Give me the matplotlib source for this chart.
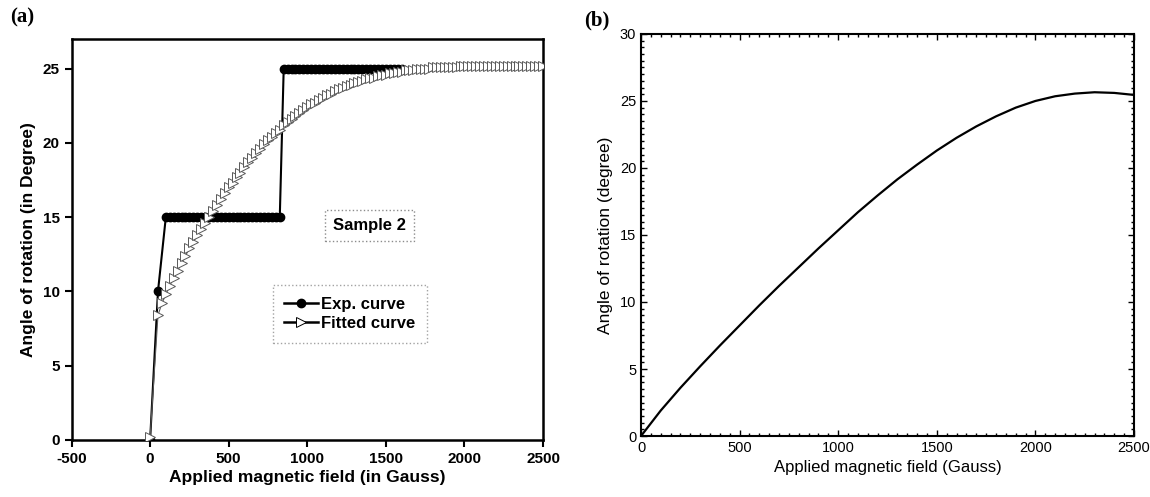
"""
Faraday rotation vs applied field: (a) experiment + fit, (b) model curve
"""

import matplotlib
matplotlib.use("Agg")
import matplotlib.pyplot as plt
from matplotlib.ticker import MultipleLocator

plt.rcParams['font.family'] = ['Liberation Sans', 'DejaVu Sans']
plt.rcParams['axes.unicode_minus'] = False

# ---- panel (a) data ----
exp_field = [0, 50,
             100, 125, 150, 175, 200, 225, 250, 275, 300, 325, 350, 375,
             400, 425, 450, 475, 500, 525, 550, 575, 600, 625, 650, 675,
             700, 725, 750, 775, 800, 825,
             850, 875, 900, 925, 950, 975, 1000, 1025, 1050, 1075, 1100,
             1125, 1150, 1175, 1200, 1225, 1250, 1275, 1300, 1325, 1350,
             1375, 1400, 1425, 1450, 1475, 1500, 1525, 1550, 1575, 1600]
exp_angle = [0, 10,
             15, 15, 15, 15, 15, 15, 15, 15, 15, 15, 15, 15,
             15, 15, 15, 15, 15, 15, 15, 15, 15, 15, 15, 15,
             15, 15, 15, 15, 15, 15,
             25, 25, 25, 25, 25, 25, 25, 25, 25, 25, 25,
             25, 25, 25, 25, 25, 25, 25, 25, 25, 25,
             25, 25, 25, 25, 25, 25, 25, 25, 25, 25]

fit_field = [0, 50, 75, 100, 125, 150, 175, 200, 225, 250, 275, 300, 325,
             350, 375, 400, 425, 450, 475, 500, 525, 550, 575, 600, 625,
             650, 675, 700, 725, 750, 775, 800, 825, 850, 875, 900, 925,
             950, 975, 1000, 1025, 1050, 1075, 1100, 1125, 1150, 1175,
             1200, 1225, 1250, 1275, 1300, 1325, 1350, 1375, 1400, 1425,
             1450, 1475, 1500, 1525, 1550, 1575, 1600, 1625, 1650, 1675,
             1700, 1725, 1750, 1775, 1800, 1825, 1850, 1875, 1900, 1925,
             1950, 1975, 2000, 2025, 2050, 2075, 2100, 2125, 2150, 2175,
             2200, 2225, 2250, 2275, 2300, 2325, 2350, 2375, 2400, 2425,
             2450, 2475, 2500]
fit_angle = [0.2, 8.4, 9.2, 9.8, 10.4, 10.9, 11.4, 11.9, 12.4, 12.9, 13.3,
             13.8, 14.2, 14.6, 15.0, 15.4, 15.8, 16.2, 16.6, 17.0, 17.3,
             17.7, 18.0, 18.4, 18.7, 19.0, 19.3, 19.6, 19.9, 20.2, 20.4,
             20.7, 20.9, 21.2, 21.4, 21.6, 21.8, 22.0, 22.2, 22.4, 22.6,
             22.7, 22.9, 23.0, 23.2, 23.3, 23.5, 23.6, 23.7, 23.8, 23.9,
             24.0, 24.1, 24.2, 24.3, 24.4, 24.4, 24.5, 24.6, 24.6, 24.7,
             24.7, 24.8, 24.8, 24.9, 24.9, 24.9, 25.0, 25.0, 25.0, 25.0,
             25.1, 25.1, 25.1, 25.1, 25.1, 25.1, 25.1, 25.2, 25.2, 25.2,
             25.2, 25.2, 25.2, 25.2, 25.2, 25.2, 25.2, 25.2, 25.2, 25.2,
             25.2, 25.2, 25.2, 25.2, 25.2, 25.2, 25.2, 25.2, 25.2]

# ---- panel (b) data ----
model_field = [0, 100, 200, 300, 400, 500, 600, 700, 800, 900, 1000, 1100,
               1200, 1300, 1400, 1500, 1600, 1700, 1800, 1900, 2000, 2100,
               2200, 2300, 2400, 2500]
model_angle = [0.0, 1.9, 3.6, 5.2, 6.75, 8.25, 9.75, 11.2, 12.6, 14.0,
               15.35, 16.7, 17.95, 19.15, 20.25, 21.3, 22.25, 23.1, 23.85,
               24.5, 25.0, 25.35, 25.55, 25.65, 25.6, 25.45]

fig = plt.figure(figsize=(11.5, 4.97), dpi=100)

# ---------------- (a) ----------------
ax1 = fig.add_axes([0.0622, 0.1147, 0.410, 0.807])
ax1.plot(exp_field, exp_angle, color='black', lw=1.5, marker='o', ms=6,
         mfc='black', mec='black', label='Exp. curve', zorder=2)
ax1.plot(fit_field, fit_angle, color='0.35', lw=0.8, marker='>', ms=7,
         mfc='white', mec='0.35', mew=0.7, label='Fitted curve', zorder=3)

ax1.set_xlim(-500, 2500)
ax1.set_ylim(0, 27)
ax1.set_xticks([-500, 0, 500, 1000, 1500, 2000, 2500])
ax1.set_yticks([0, 5, 10, 15, 20, 25])
ax1.tick_params(direction='out', length=5, width=1.5, labelsize=11)
for lbl in ax1.get_xticklabels() + ax1.get_yticklabels():
    lbl.set_fontweight('bold')
for sp in ax1.spines.values():
    sp.set_linewidth(1.8)
ax1.set_xlabel('Applied magnetic field (in Gauss)', fontsize=12.5,
               fontweight='bold', labelpad=3)
ax1.set_ylabel('Angle of rotation (in Degree)', fontsize=12.5,
               fontweight='bold', labelpad=5)

leg = ax1.legend(loc='center', bbox_to_anchor=(0.59, 0.314), frameon=True,
                 fancybox=False, prop={'weight': 'bold', 'size': 12},
                 handlelength=2.0, handletextpad=0.2, borderpad=0.7,
                 labelspacing=0.25)
leg.get_frame().set_edgecolor('0.55')
leg.get_frame().set_linestyle(':')
leg.get_frame().set_linewidth(1.0)
for h in leg.get_lines():
    h.set_color('black')
    h.set_markeredgecolor('black')
    h.set_linewidth(1.8)

ax1.text(0.632, 0.535, 'Sample 2', transform=ax1.transAxes, ha='center',
         va='center', fontsize=12, fontweight='bold',
         bbox=dict(boxstyle='square,pad=0.5', fc='white', ec='0.55',
                   ls=':', lw=1.0))

# ---------------- (b) ----------------
ax2 = fig.add_axes([0.5574, 0.1227, 0.4287, 0.809])
ax2.plot(model_field, model_angle, color='black', lw=1.6)
ax2.set_xlim(0, 2500)
ax2.set_ylim(0, 30)
ax2.set_xticks([0, 500, 1000, 1500, 2000, 2500])
ax2.set_yticks([0, 5, 10, 15, 20, 25, 30])
ax2.xaxis.set_minor_locator(MultipleLocator(50))
ax2.yaxis.set_minor_locator(MultipleLocator(0.5))
ax2.tick_params(which='both', direction='in', top=True, right=True,
                width=1.0, labelsize=10.5)
ax2.tick_params(which='major', length=4)
ax2.tick_params(which='minor', length=2)
for sp in ax2.spines.values():
    sp.set_linewidth(1.5)
ax2.set_xlabel('Applied magnetic field (Gauss)', fontsize=12, labelpad=4)
ax2.set_ylabel('Angle of rotation (degree)', fontsize=12.5, labelpad=5)

# panel letters
fig.text(0.019, 0.965, '(a)', fontsize=15, fontweight='bold',
         family='Liberation Serif', ha='center', va='center')
fig.text(0.519, 0.958, '(b)', fontsize=15, fontweight='bold',
         family='Liberation Serif', ha='center', va='center')

fig.savefig('out.png', dpi=100)
